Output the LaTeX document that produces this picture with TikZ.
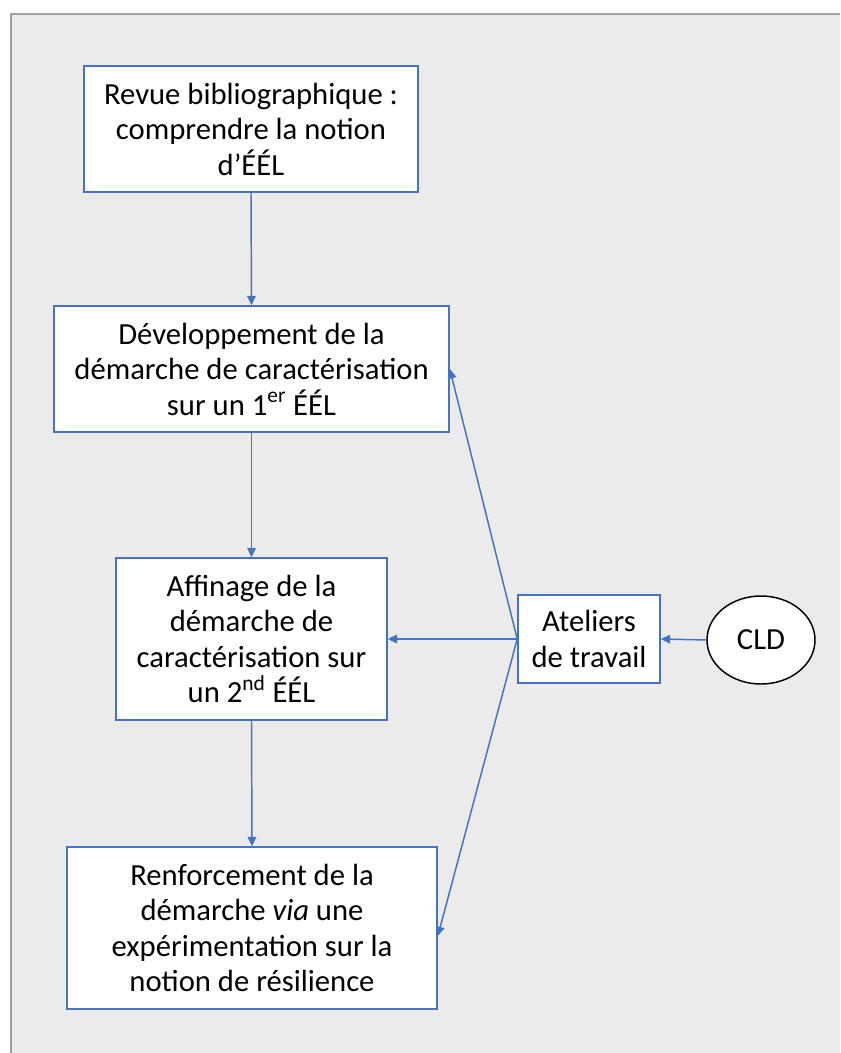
\documentclass[tikz,border=0pt]{standalone}
\usepackage{fontspec}
\setmainfont{Carlito}
\usetikzlibrary{arrows.meta,shapes.geometric}
\definecolor{bgray}{HTML}{EBEBEB}
\definecolor{frameg}{HTML}{A0A0A0}
\definecolor{lblue}{HTML}{4472C4}
\tikzset{
  box/.style={draw=lblue, line width=1.2pt, fill=white, align=center, inner sep=2pt,
    font=\fontsize{23}{26.6}\selectfont},
  conn/.style={draw=lblue, line width=1.1pt, -{Triangle[length=7pt,width=6.5pt]}},
}
\begin{document}
\begin{tikzpicture}[x=0.75pt,y=-0.75pt]
\useasboundingbox (0,0) rectangle (840,1053);
\fill[white] (0,0) rectangle (840,1053);
\fill[bgray] (11,14) rectangle (840,1053);
\draw[frameg, line width=1.2pt] (11,1053) -- (11,14) -- (840,14);
\node[box, minimum width=250.5pt, minimum height=94.5pt] (b1) at (251,129)
  {Revue bibliographique :\\comprendre la notion\\d’ÉÉL};
\node[box, minimum width=296.25pt, minimum height=94.5pt] (b2) at (251.5,369)
  {Développement de la\\démarche de caractérisation\\sur un 1\textsuperscript{er} ÉÉL};
\node[box, minimum width=203.25pt, minimum height=121.5pt] (b3) at (251.5,639)
  {Affinage de la\\démarche de\\caractérisation sur\\un 2\textsuperscript{nd} ÉÉL};
\node[box, minimum width=277.5pt, minimum height=121.5pt] (b4) at (252,928)
  {Renforcement de la\\démarche \textit{via} une\\expérimentation sur la\\notion de résilience};
\node[box, minimum width=106.5pt, minimum height=66pt] (at) at (589,639)
  {Ateliers\\de travail};
\node[ellipse, draw=black, line width=1.1pt, fill=white, minimum width=81pt, minimum height=66pt, inner sep=0pt,
  font=\fontsize{23}{26.6}\selectfont] (cld) at (761,640) {CLD};
\draw[conn] (b1.south) -- (b2.north);
\draw[conn] (b2.south) -- (b3.north);
\draw[conn] (b3.south) -- (b4.north);
\draw[conn] (cld.west) -- (at.east);
\draw[conn] (at.west) -- (b3.east);
\draw[conn] (at.west) -- (b2.east);
\draw[conn] (at.west) -- ([yshift=-6pt]b4.east);
\end{tikzpicture}
\end{document}
